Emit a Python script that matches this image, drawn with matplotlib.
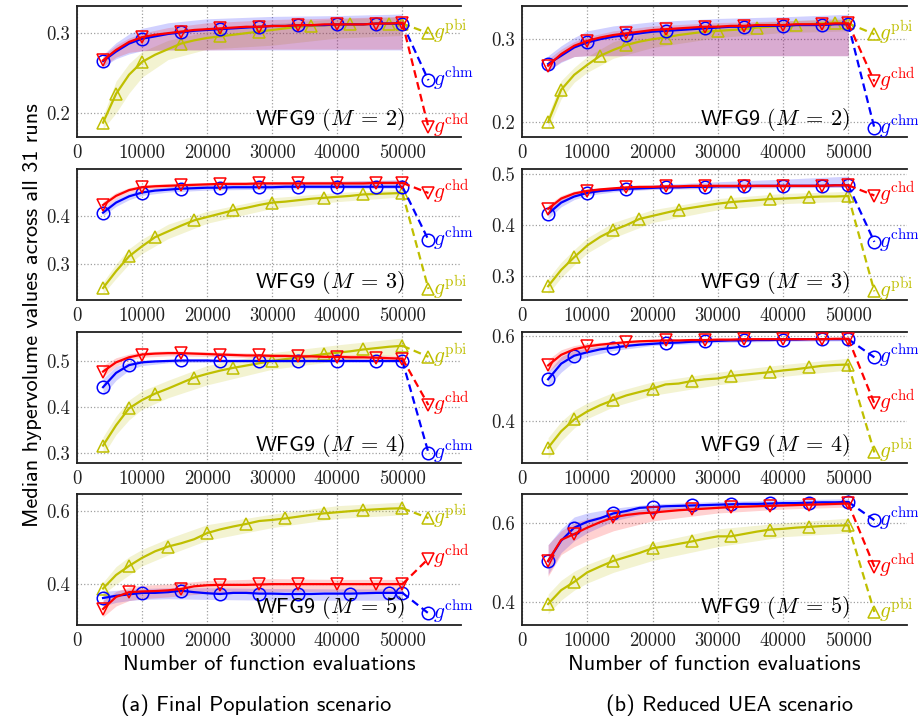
import matplotlib
matplotlib.use("Agg")
import matplotlib.pyplot as plt
import matplotlib.transforms as mtransforms

plt.rcParams['mathtext.fontset'] = 'cm'

# ---------------- shared axes data ----------------
XGRID = list(range(4000, 50001, 2000))          # evaluations where medians are recorded
BAND_X = [4000, 6000, 8000, 10000, 14000, 20000, 30000, 40000, 50000]
END_X = 54000
XTICKS = [0, 10000, 20000, 30000, 40000, 50000]
XTICK_LABELS = ["0", "10000", "20000", "30000", "40000", "50000"]
M_VALUES = [2, 3, 4, 5]
CAPTIONS = ["(a) Final Population scenario", "(b) Reduced UEA scenario"]
SERIES = ["pbi", "chm", "chd"]

MK_A = [4000, 10000, 16000, 22000, 28000, 34000, 40000, 46000, 50000]
MK_B = [4000, 8000, 14000, 20000, 26000, 32000, 38000, 44000, 50000]

# ================= (a) Final Population =================
# M = 2
fp2_chm = [.265, .277, .287, .293, .296, .299, .301, .303, .304, .305, .306, .307, .308, .309, .309, .310, .310, .310, .311, .311, .311, .312, .312, .312]
fp2_chd = [.266, .279, .289, .295, .298, .300, .302, .304, .305, .306, .307, .308, .308, .309, .309, .310, .310, .311, .311, .311, .311, .312, .312, .313]
fp2_pbi = [.188, .224, .248, .264, .273, .280, .287, .291, .294, .296, .298, .300, .302, .304, .306, .308, .309, .310, .310, .311, .311, .312, .312, .312]
fp2_chm_lo = [.258, .268, .274, .278, .279, .279, .279, .279, .279]
fp2_chm_hi = [.273, .288, .299, .306, .313, .318, .321, .322, .324]
fp2_chd_lo = [.258, .270, .276, .278, .279, .279, .280, .280, .280]
fp2_chd_hi = [.272, .285, .294, .300, .307, .313, .317, .319, .321]
fp2_pbi_lo = [.180, .200, .225, .245, .267, .280, .285, .294, .297]
fp2_pbi_hi = [.196, .240, .262, .277, .291, .302, .312, .318, .320]
fp2_end = {"chm": .241, "chd": .182, "pbi": .300}
fp2_marks = {"chm": MK_A, "chd": MK_A,
             "pbi": [4000, 6000, 10000, 16000, 22000, 28000, 36000, 42000, 48000, 50000]}
fp2_ylim = (0.17, 0.334)
fp2_yticks = [0.2, 0.3]

# M = 3
fp3_chm = [.407, .428, .441, .449, .453, .455, .457, .458, .459, .459, .460, .460, .460, .460, .461, .461, .461, .461, .461, .461, .461, .461, .461, .461]
fp3_chd = [.423, .442, .454, .460, .462, .463, .464, .465, .466, .467, .467, .467, .468, .468, .468, .468, .468, .468, .468, .468, .468, .469, .469, .469]
fp3_pbi = [.250, .285, .316, .337, .356, .368, .380, .391, .398, .405, .412, .417, .423, .428, .430, .433, .436, .438, .440, .442, .445, .446, .447, .448]
fp3_chm_lo = [.400, .420, .434, .443, .450, .454, .456, .457, .457]
fp3_chm_hi = [.415, .436, .448, .455, .461, .465, .469, .472, .476]
fp3_chd_lo = [.415, .436, .449, .455, .459, .462, .464, .465, .465]
fp3_chd_hi = [.430, .449, .459, .465, .468, .470, .472, .473, .474]
fp3_pbi_lo = [.238, .270, .300, .322, .353, .385, .416, .430, .440]
fp3_pbi_hi = [.262, .300, .332, .352, .383, .410, .438, .449, .456]
fp3_end = {"chm": .350, "chd": .448, "pbi": .248}
fp3_marks = {"chm": MK_A, "chd": MK_A,
             "pbi": [4000, 8000, 12000, 18000, 24000, 30000, 38000, 44000, 50000]}
fp3_ylim = (0.225, 0.498)
fp3_yticks = [0.3, 0.4]

# M = 4
fp4_chm = [.443, .474, .491, .497, .499, .500, .501, .501, .501, .500, .500, .500, .500, .500, .500, .500, .500, .500, .500, .500, .500, .500, .500, .500]
fp4_chd = [.477, .497, .508, .514, .516, .517, .517, .516, .515, .514, .513, .512, .512, .511, .511, .510, .510, .509, .509, .508, .508, .507, .506, .505]
fp4_pbi = [.316, .360, .397, .415, .429, .440, .452, .464, .472, .479, .485, .490, .495, .500, .504, .507, .511, .515, .518, .521, .525, .528, .531, .533]
fp4_chm_lo = [.425, .458, .480, .490, .496, .497, .497, .497, .497]
fp4_chm_hi = [.462, .488, .498, .502, .503, .503, .503, .503, .503]
fp4_chd_lo = [.465, .488, .502, .508, .511, .510, .506, .503, .500]
fp4_chd_hi = [.490, .507, .515, .520, .522, .520, .516, .514, .512]
fp4_pbi_lo = [.295, .340, .372, .395, .420, .448, .482, .500, .515]
fp4_pbi_hi = [.335, .380, .415, .435, .458, .490, .518, .535, .550]
fp4_end = {"chm": .300, "chd": .404, "pbi": .509}
fp4_marks = {"chm": [4000, 8000, 16000, 22000, 28000, 34000, 40000, 46000, 50000], "chd": MK_A,
             "pbi": [4000, 8000, 12000, 18000, 24000, 30000, 38000, 44000, 50000]}
fp4_ylim = (0.278, 0.563)
fp4_yticks = [0.3, 0.4, 0.5]

# M = 5
fp5_chm = [.362, .368, .372, .376, .376, .378, .382, .378, .375, .373, .376, .376, .374, .374, .373, .373, .373, .374, .374, .374, .375, .376, .376, .376]
fp5_chd = [.332, .365, .378, .380, .381, .383, .387, .394, .397, .398, .398, .398, .399, .400, .400, .400, .400, .400, .400, .400, .400, .400, .400, .400]
fp5_pbi = [.388, .425, .450, .472, .490, .503, .512, .523, .540, .550, .558, .565, .573, .576, .580, .585, .590, .594, .597, .600, .603, .605, .607, .608]
fp5_chm_lo = [.340, .350, .355, .358, .360, .358, .356, .356, .356]
fp5_chm_hi = [.380, .383, .386, .388, .390, .390, .388, .387, .387]
fp5_chd_lo = [.310, .340, .355, .360, .365, .375, .380, .380, .380]
fp5_chd_hi = [.355, .380, .392, .397, .400, .410, .415, .413, .413]
fp5_pbi_lo = [.372, .400, .425, .450, .480, .520, .555, .580, .590]
fp5_pbi_hi = [.405, .448, .475, .495, .525, .563, .592, .615, .625]
fp5_end = {"chm": .320, "chd": .470, "pbi": .581}
fp5_marks = {"chm": [4000, 10000, 16000, 22000, 28000, 34000, 42000, 48000, 50000],
             "chd": [4000, 8000, 16000, 22000, 28000, 34000, 40000, 46000, 50000], "pbi": MK_B}
fp5_ylim = (0.288, 0.647)
fp5_yticks = [0.4, 0.6]

# ================= (b) Reduced UEA =================
# M = 2
ru2_chm = [.270, .280, .290, .296, .300, .303, .305, .307, .309, .310, .311, .312, .313, .314, .315, .315, .316, .316, .316, .317, .317, .317, .318, .318]
ru2_chd = [.268, .282, .292, .298, .302, .305, .307, .309, .311, .312, .313, .314, .315, .315, .316, .316, .317, .317, .317, .318, .318, .318, .319, .319]
ru2_pbi = [.200, .239, .257, .269, .280, .287, .293, .297, .300, .302, .305, .307, .309, .310, .311, .312, .314, .315, .316, .317, .318, .319, .320, .319]
ru2_chm_lo = [.262, .272, .279, .280, .280, .280, .280, .280, .280]
ru2_chm_hi = [.280, .292, .302, .310, .316, .321, .325, .327, .330]
ru2_chd_lo = [.262, .273, .279, .280, .280, .280, .280, .280, .280]
ru2_chd_hi = [.276, .288, .297, .303, .310, .316, .320, .322, .324]
ru2_pbi_lo = [.192, .228, .248, .260, .277, .290, .302, .308, .310]
ru2_pbi_hi = [.208, .250, .266, .279, .297, .309, .317, .322, .326]
ru2_end = {"chm": .193, "chd": .249, "pbi": .306}
ru2_marks = {"chm": MK_A, "chd": MK_A,
             "pbi": [4000, 6000, 12000, 16000, 22000, 30000, 36000, 42000, 48000, 50000]}
ru2_ylim = (0.182, 0.34)
ru2_yticks = [0.2, 0.3]

# M = 3
ru3_chm = [.422, .444, .456, .463, .467, .469, .471, .472, .473, .474, .474, .475, .475, .476, .476, .476, .477, .477, .477, .477, .477, .477, .478, .478]
ru3_chd = [.432, .452, .462, .467, .470, .472, .474, .475, .475, .476, .476, .477, .477, .477, .477, .477, .477, .477, .477, .477, .477, .477, .478, .478]
ru3_pbi = [.280, .312, .337, .360, .377, .390, .400, .412, .418, .424, .430, .434, .438, .442, .445, .447, .449, .451, .452, .453, .455, .456, .456, .457]
ru3_chm_lo = [.412, .436, .450, .458, .465, .470, .472, .473, .474]
ru3_chm_hi = [.432, .452, .462, .468, .474, .479, .485, .490, .496]
ru3_chd_lo = [.424, .446, .457, .462, .468, .471, .473, .474, .475]
ru3_chd_hi = [.440, .458, .467, .471, .475, .477, .479, .480, .481]
ru3_pbi_lo = [.265, .297, .322, .345, .375, .405, .430, .442, .447]
ru3_pbi_hi = [.295, .327, .352, .375, .405, .430, .452, .462, .466]
ru3_end = {"chm": .367, "chd": .458, "pbi": .270}
ru3_marks = {"chm": MK_A, "chd": MK_A,
             "pbi": [4000, 8000, 14000, 18000, 24000, 32000, 38000, 44000, 50000]}
ru3_ylim = (0.253, 0.51)
ru3_yticks = [0.3, 0.4, 0.5]

# M = 4
ru4_chm = [.498, .535, .554, .562, .569, .573, .577, .580, .582, .584, .585, .587, .588, .589, .590, .590, .591, .591, .592, .592, .593, .593, .593, .593]
ru4_chd = [.531, .556, .569, .576, .580, .583, .586, .588, .589, .590, .590, .591, .591, .592, .592, .593, .593, .593, .593, .593, .593, .593, .594, .594]
ru4_pbi = [.336, .375, .403, .422, .437, .449, .460, .468, .476, .486, .488, .494, .498, .500, .506, .509, .512, .515, .519, .522, .526, .530, .532, .533]
ru4_chm_lo = [.480, .515, .540, .552, .566, .578, .585, .588, .589]
ru4_chm_hi = [.515, .552, .566, .572, .580, .587, .593, .596, .597]
ru4_chd_lo = [.515, .542, .558, .567, .578, .585, .588, .590, .591]
ru4_chd_hi = [.545, .568, .578, .583, .588, .592, .595, .596, .597]
ru4_pbi_lo = [.310, .352, .383, .405, .433, .460, .485, .505, .520]
ru4_pbi_hi = [.360, .398, .425, .442, .467, .492, .515, .533, .548]
ru4_end = {"chm": .550, "chd": .441, "pbi": .325}
ru4_marks = {"chm": [4000, 8000, 14000, 22000, 28000, 34000, 40000, 46000, 50000], "chd": MK_A,
             "pbi": MK_B}
ru4_ylim = (0.30, 0.61)
ru4_yticks = [0.4, 0.6]

# M = 5
ru5_chm = [.503, .555, .588, .603, .612, .624, .630, .638, .640, .642, .643, .644, .645, .646, .647, .648, .648, .649, .650, .650, .651, .652, .652, .653]
ru5_chd = [.504, .557, .572, .588, .602, .614, .620, .624, .626, .629, .632, .634, .636, .638, .640, .641, .642, .643, .644, .645, .646, .647, .648, .649]
ru5_pbi = [.395, .430, .451, .475, .490, .504, .514, .524, .536, .541, .547, .553, .560, .566, .566, .572, .578, .583, .585, .588, .590, .592, .593, .594]
ru5_chm_lo = [.470, .525, .555, .575, .605, .628, .638, .643, .646]
ru5_chm_hi = [.545, .585, .615, .625, .637, .648, .654, .658, .661]
ru5_chd_lo = [.465, .520, .540, .555, .580, .605, .625, .635, .640]
ru5_chd_hi = [.545, .580, .600, .610, .625, .637, .645, .650, .654]
ru5_pbi_lo = [.370, .405, .430, .448, .475, .505, .540, .565, .575]
ru5_pbi_hi = [.420, .455, .478, .495, .520, .550, .585, .600, .612]
ru5_end = {"chm": .607, "chd": .489, "pbi": .375}
ru5_marks = {"chm": MK_B, "chd": MK_B, "pbi": MK_B}
ru5_ylim = (0.342, 0.673)
ru5_yticks = [0.4, 0.6]

# ---------------- styles ----------------
COLORS = {"chm": "#0000ff", "chd": "#ff0000", "pbi": "#bfbf00"}
MARKERS = {"chm": "o", "chd": "v", "pbi": "^"}

def panel(med, lo, hi, end, marks, ylim, yticks):
    return dict(med=med, lo=lo, hi=hi, end=end, marks=marks, ylim=ylim, yticks=yticks)

COLUMNS = [
    [panel({"chm": fp2_chm, "chd": fp2_chd, "pbi": fp2_pbi},
           {"chm": fp2_chm_lo, "chd": fp2_chd_lo, "pbi": fp2_pbi_lo},
           {"chm": fp2_chm_hi, "chd": fp2_chd_hi, "pbi": fp2_pbi_hi}, fp2_end, fp2_marks, fp2_ylim, fp2_yticks),
     panel({"chm": fp3_chm, "chd": fp3_chd, "pbi": fp3_pbi},
           {"chm": fp3_chm_lo, "chd": fp3_chd_lo, "pbi": fp3_pbi_lo},
           {"chm": fp3_chm_hi, "chd": fp3_chd_hi, "pbi": fp3_pbi_hi}, fp3_end, fp3_marks, fp3_ylim, fp3_yticks),
     panel({"chm": fp4_chm, "chd": fp4_chd, "pbi": fp4_pbi},
           {"chm": fp4_chm_lo, "chd": fp4_chd_lo, "pbi": fp4_pbi_lo},
           {"chm": fp4_chm_hi, "chd": fp4_chd_hi, "pbi": fp4_pbi_hi}, fp4_end, fp4_marks, fp4_ylim, fp4_yticks),
     panel({"chm": fp5_chm, "chd": fp5_chd, "pbi": fp5_pbi},
           {"chm": fp5_chm_lo, "chd": fp5_chd_lo, "pbi": fp5_pbi_lo},
           {"chm": fp5_chm_hi, "chd": fp5_chd_hi, "pbi": fp5_pbi_hi}, fp5_end, fp5_marks, fp5_ylim, fp5_yticks)],
    [panel({"chm": ru2_chm, "chd": ru2_chd, "pbi": ru2_pbi},
           {"chm": ru2_chm_lo, "chd": ru2_chd_lo, "pbi": ru2_pbi_lo},
           {"chm": ru2_chm_hi, "chd": ru2_chd_hi, "pbi": ru2_pbi_hi}, ru2_end, ru2_marks, ru2_ylim, ru2_yticks),
     panel({"chm": ru3_chm, "chd": ru3_chd, "pbi": ru3_pbi},
           {"chm": ru3_chm_lo, "chd": ru3_chd_lo, "pbi": ru3_pbi_lo},
           {"chm": ru3_chm_hi, "chd": ru3_chd_hi, "pbi": ru3_pbi_hi}, ru3_end, ru3_marks, ru3_ylim, ru3_yticks),
     panel({"chm": ru4_chm, "chd": ru4_chd, "pbi": ru4_pbi},
           {"chm": ru4_chm_lo, "chd": ru4_chd_lo, "pbi": ru4_pbi_lo},
           {"chm": ru4_chm_hi, "chd": ru4_chd_hi, "pbi": ru4_pbi_hi}, ru4_end, ru4_marks, ru4_ylim, ru4_yticks),
     panel({"chm": ru5_chm, "chd": ru5_chd, "pbi": ru5_pbi},
           {"chm": ru5_chm_lo, "chd": ru5_chd_lo, "pbi": ru5_pbi_lo},
           {"chm": ru5_chm_hi, "chd": ru5_chd_hi, "pbi": ru5_pbi_hi}, ru5_end, ru5_marks, ru5_ylim, ru5_yticks)],
]

# ---------------- layout ----------------
W, H = 918, 725
fig = plt.figure(figsize=(W / 100, H / 100), dpi=100)
COL_X = [(77, 461), (522, 907)]
ROW_Y = [(6, 137), (169, 300), (332, 463), (494, 625)]
CAPTION_CX = [256, 730]

TICK_FONT = dict(family="cmr10", size=13.5)
SANS = "cmss10"

for ci, col in enumerate(COLUMNS):
    for ri, p in enumerate(col):
        x0, x1 = COL_X[ci]
        y0, y1 = ROW_Y[ri]
        ax = fig.add_axes([x0 / W, 1 - y1 / H, (x1 - x0) / W, (y1 - y0) / H])
        ax.set_xlim(0, 59000)
        ax.set_ylim(*p["ylim"])

        for s in SERIES:
            ax.fill_between(BAND_X, p["lo"][s], p["hi"][s], color=COLORS[s],
                            alpha=0.18, linewidth=0, zorder=1)
        for s in SERIES:
            idx = [XGRID.index(m) for m in p["marks"][s]]
            ax.plot(XGRID, p["med"][s], color=COLORS[s], lw=1.6, marker=MARKERS[s],
                    markersize=9, markerfacecolor="none", markeredgewidth=1.1,
                    markevery=idx, zorder=3)
            ax.plot([XGRID[-1], END_X], [p["med"][s][-1], p["end"][s]], color=COLORS[s],
                    lw=1.6, ls=(0, (3.5, 2)), zorder=3)
            ax.plot([END_X], [p["end"][s]], color=COLORS[s], marker=MARKERS[s],
                    markersize=9, markerfacecolor="none", markeredgewidth=1.1, zorder=4)
            ax.annotate(r"$g^{\mathrm{%s}}$" % s, (END_X, p["end"][s]),
                        xytext=(3, -4.2), textcoords="offset points", ha="left",
                        va="baseline", color=COLORS[s], fontsize=15.5, zorder=5,
                        annotation_clip=False)

        trans = mtransforms.blended_transform_factory(ax.transData, ax.transAxes)
        ax.text(50400, 0.135, r"WFG9 $(M\:=\:%d)$" % M_VALUES[ri], transform=trans,
                ha="right", va="center", fontsize=16, family=SANS, zorder=6)

        ax.set_xticks(XTICKS)
        ax.set_xticklabels(XTICK_LABELS, **TICK_FONT)
        ax.set_yticks(p["yticks"])
        ax.set_yticklabels(["%g" % t for t in p["yticks"]], **TICK_FONT)
        ax.tick_params(length=0, pad=5, colors="#222222")
        ax.grid(True, ls=":", color="#a0a0a0", lw=0.9)
        ax.set_axisbelow(True)
        ax.spines["right"].set_visible(False)
        for sp in ("left", "top", "bottom"):
            ax.spines[sp].set_linewidth(1.3)
            ax.spines[sp].set_color("#202020")

    cx = (COL_X[ci][0] + COL_X[ci][1]) / 2 / W
    fig.text(cx, 1 - 665 / H, "Number of function evaluations", ha="center", va="center",
             fontsize=16, family=SANS)
    fig.text(CAPTION_CX[ci] / W, 1 - 705 / H, CAPTIONS[ci], ha="center", va="center",
             fontsize=16, family=SANS)

fig.text(33 / W, 1 - 315 / H, "Median hypervolume values across all 31 runs", rotation=90,
         ha="center", va="center", fontsize=16, family=SANS)

fig.savefig("out.png", dpi=100)
